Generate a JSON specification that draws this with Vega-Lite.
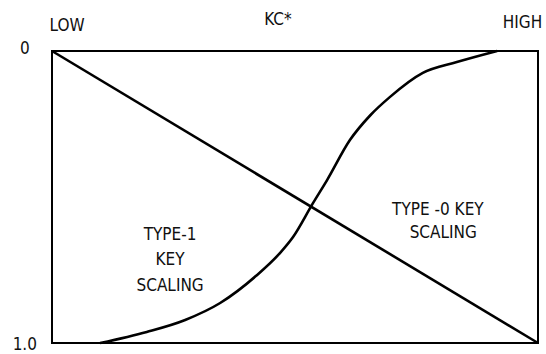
{
  "$schema": "https://vega.github.io/schema/vega-lite/v6.json",
  "width": 486,
  "height": 292,
  "autosize": {"type": "none"},
  "padding": {"left": 52, "top": 51, "right": 8, "bottom": 11},
  "background": "white",
  "config": {
    "view": {"stroke": "black", "strokeWidth": 2},
    "text": {"font": "DejaVu Sans Condensed", "fontSize": 17, "color": "#111"}
  },
  "datasets": {
    "curves": [
      {"series": "type1", "x": 0.0, "y": 0.0},
      {"series": "type1", "x": 1.0, "y": 1.0},
      {"series": "type0", "x": 0.099, "y": 1.0},
      {"series": "type0", "x": 0.195, "y": 0.962},
      {"series": "type0", "x": 0.274, "y": 0.921},
      {"series": "type0", "x": 0.346, "y": 0.863},
      {"series": "type0", "x": 0.42, "y": 0.77},
      {"series": "type0", "x": 0.469, "y": 0.692},
      {"series": "type0", "x": 0.496, "y": 0.637},
      {"series": "type0", "x": 0.537, "y": 0.521},
      {"series": "type0", "x": 0.566, "y": 0.442},
      {"series": "type0", "x": 0.613, "y": 0.305},
      {"series": "type0", "x": 0.655, "y": 0.22},
      {"series": "type0", "x": 0.695, "y": 0.158},
      {"series": "type0", "x": 0.763, "y": 0.075},
      {"series": "type0", "x": 0.833, "y": 0.038},
      {"series": "type0", "x": 0.916, "y": 0.0}
    ],
    "labels": [
      {"x": 0.031, "y": -0.086, "label": "LOW"},
      {"x": 0.465, "y": -0.106, "label": "KC*"},
      {"x": 0.968, "y": -0.096, "label": "HIGH"},
      {"x": -0.056, "y": -0.007, "label": "0"},
      {"x": -0.056, "y": 1.007, "label": "1.0"},
      {"x": 0.243, "y": 0.63, "label": "TYPE-1"},
      {"x": 0.243, "y": 0.716, "label": "KEY"},
      {"x": 0.243, "y": 0.805, "label": "SCALING"},
      {"x": 0.794, "y": 0.545, "label": "TYPE -0 KEY"},
      {"x": 0.805, "y": 0.623, "label": "SCALING"}
    ]
  },
  "layer": [
    {
      "data": {"name": "curves"},
      "mark": {"type": "line", "color": "black", "strokeWidth": 2.6, "interpolate": "monotone"},
      "encoding": {
        "x": {"field": "x", "type": "quantitative", "scale": {"domain": [0, 1], "nice": false}, "axis": null},
        "y": {"field": "y", "type": "quantitative", "scale": {"domain": [0, 1], "nice": false, "reverse": true}, "axis": null},
        "detail": {"field": "series"}
      }
    },
    {
      "data": {"name": "labels"},
      "mark": {"type": "text", "align": "center", "baseline": "middle"},
      "encoding": {
        "x": {"field": "x", "type": "quantitative"},
        "y": {"field": "y", "type": "quantitative"},
        "text": {"field": "label"}
      }
    }
  ]
}
